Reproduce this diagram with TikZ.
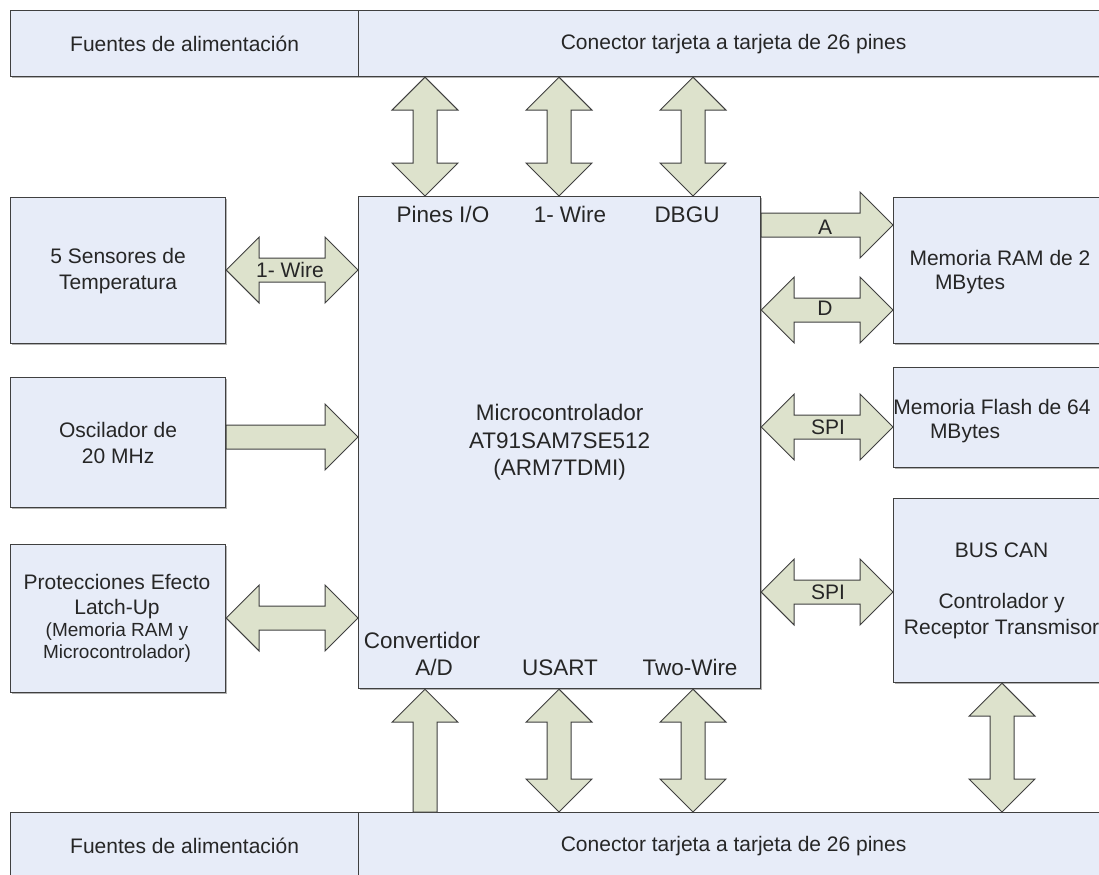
\documentclass[tikz,border=0pt]{standalone}
\usepackage{fontspec}
\setmainfont{Liberation Sans}
\usetikzlibrary{calc,shadows}
\definecolor{boxfill}{RGB}{231,236,248}
\definecolor{arrfill}{RGB}{221,226,204}
\definecolor{edgecol}{RGB}{64,64,64}
\definecolor{txt}{RGB}{38,38,38}
\tikzset{
  box/.style={draw=edgecol, fill=boxfill, line width=1.2bp, rectangle, inner sep=0pt,
    align=center, text=txt, font=\fontsize{21bp}{26bp}\selectfont,
    drop shadow={shadow xshift=1.5bp, shadow yshift=-1.5bp, fill=black!30, opacity=1}},
  lbl/.style={text=txt, font=\fontsize{21bp}{26bp}\selectfont, inner sep=0pt, text height=15bp, text depth=0bp},
  pinlbl/.style={lbl, font=\fontsize{22.5bp}{27bp}\selectfont},
  smalllbl/.style={text=txt, font=\fontsize{19bp}{22bp}\selectfont, inner sep=0pt, align=center},
  arr/.style={draw=edgecol, fill=arrfill, line width=1bp, line join=miter},
}
% double horizontal arrow: left point, right point
\newcommand\ArrDH[2]{%
  \path[arr] let \p1=(#1), \p2=(#2) in
   (\x1,\y1) -- (\x1+33bp,\y1+33bp) -- (\x1+33bp,\y1+12bp) -- (\x2-33bp,\y1+12bp)
   -- (\x2-33bp,\y1+33bp) -- (\x2,\y1) -- (\x2-33bp,\y1-33bp) -- (\x2-33bp,\y1-12bp)
   -- (\x1+33bp,\y1-12bp) -- (\x1+33bp,\y1-33bp) -- cycle;}
% single horizontal arrow: tail (left), head (right)
\newcommand\ArrSH[2]{%
  \path[arr] let \p1=(#1), \p2=(#2) in
   (\x1,\y1+12bp) -- (\x2-33bp,\y1+12bp) -- (\x2-33bp,\y1+33bp) -- (\x2,\y1)
   -- (\x2-33bp,\y1-33bp) -- (\x2-33bp,\y1-12bp) -- (\x1,\y1-12bp) -- cycle;}
% double vertical arrow: top point, bottom point
\newcommand\ArrDV[2]{%
  \path[arr] let \p1=(#1), \p2=(#2) in
   (\x1,\y1) -- (\x1+33bp,\y1-33bp) -- (\x1+12bp,\y1-33bp) -- (\x1+12bp,\y2+33bp)
   -- (\x1+33bp,\y2+33bp) -- (\x1,\y2) -- (\x1-33bp,\y2+33bp) -- (\x1-12bp,\y2+33bp)
   -- (\x1-12bp,\y1-33bp) -- (\x1-33bp,\y1-33bp) -- cycle;}
% single vertical arrow upward: tail (bottom), head (top)
\newcommand\ArrSV[2]{%
  \path[arr] let \p1=(#1), \p2=(#2) in
   (\x1-12bp,\y1) -- (\x1-12bp,\y2-33bp) -- (\x1-33bp,\y2-33bp) -- (\x1,\y2)
   -- (\x1+33bp,\y2-33bp) -- (\x1+12bp,\y2-33bp) -- (\x1+12bp,\y1) -- cycle;}
\begin{document}
\begin{tikzpicture}[x=1bp,y=-1bp]
\useasboundingbox (0,0) rectangle (1099,875);
\clip (0,0) rectangle (1099,875);
\fill[white] (0,0) rectangle (1099,875);

% boxes
\node[box, anchor=north west, minimum width=348bp, minimum height=66bp] (topL) at (10,10) {Fuentes de alimentación};
\node[box, anchor=north west, minimum width=750bp, minimum height=66bp] (topR) at (358,10) {Conector tarjeta a tarjeta de 26 pines};
\node[box, anchor=north west, minimum width=348bp, minimum height=66bp] (botL) at (10,812) {Fuentes de alimentación};
\node[box, anchor=north west, minimum width=750bp, minimum height=66bp] (botR) at (358,812) {Conector tarjeta a tarjeta de 26 pines};

\node[box, anchor=north west, minimum width=215bp, minimum height=146bp] (sens) at (10,197) {5 Sensores de\\Temperatura};
\node[box, anchor=north west, minimum width=215bp, minimum height=130bp] (osc) at (10,377) {Oscilador de\\20 MHz};
\node[box, anchor=north west, minimum width=215bp, minimum height=148bp] (prot) at (10,544) {};

\node[box, anchor=north west, minimum width=402bp, minimum height=492bp,
      font=\fontsize{22.5bp}{27.5bp}\selectfont] (mcu) at (358,196) {Microcontrolador\\AT91SAM7SE512\\(ARM7TDMI)};

\node[box, anchor=north west, minimum width=215bp, minimum height=146bp] (ram) at (893,197) {};
\node[box, anchor=north west, minimum width=215bp, minimum height=100bp] (flash) at (893,367) {};
\node[box, anchor=north west, minimum width=216bp, minimum height=184bp] (can) at (893,498) {BUS CAN\\[25bp]Controlador y\\Receptor Transmisor};

% coordinates for connector positions
\coordinate (c1) at (425,0);
\coordinate (c2) at (559,0);
\coordinate (c3) at (693,0);
\coordinate (c4) at (1002,0);
\coordinate (r1) at (0,270);
\coordinate (r2) at (0,437);
\coordinate (r3) at (0,618);
\coordinate (r4) at (0,225);
\coordinate (r5) at (0,310);
\coordinate (r6) at (0,427);
\coordinate (r7) at (0,592);

% connectors
\ArrDV{topR.south -| c1}{mcu.north -| c1}
\ArrDV{topR.south -| c2}{mcu.north -| c2}
\ArrDV{topR.south -| c3}{mcu.north -| c3}
\ArrSV{botR.north -| c1}{mcu.south -| c1}
\ArrDV{mcu.south -| c2}{botR.north -| c2}
\ArrDV{mcu.south -| c3}{botR.north -| c3}
\ArrDV{can.south -| c4}{botR.north -| c4}
\ArrDH{sens.east |- r1}{mcu.west |- r1}
\ArrSH{osc.east |- r2}{mcu.west |- r2}
\ArrDH{prot.east |- r3}{mcu.west |- r3}
\ArrSH{mcu.east |- r4}{ram.west |- r4}
\ArrDH{mcu.east |- r5}{ram.west |- r5}
\ArrDH{mcu.east |- r6}{flash.west |- r6}
\ArrDH{mcu.east |- r7}{can.west |- r7}

% labels
\node[lbl] (wl) at (290,270) {1- Wire};
\node[lbl] (al) at (825,227) {A};
\node[lbl] (dl) at (825,308) {D};
\node[lbl] (spi1) at (828,427) {SPI};
\node[lbl] (spi2) at (828,592) {SPI};

\node[pinlbl] (pio) at (443,215) {Pines I/O};
\node[pinlbl] (pw) at (570,215) {1- Wire};
\node[pinlbl] (pdbgu) at (687,215) {DBGU};
\node[pinlbl] (pconv) at (422,641) {Convertidor};
\node[pinlbl] (pad) at (434,668) {A/D};
\node[pinlbl] (pusart) at (560,668) {USART};
\node[pinlbl] (ptw) at (690,668) {Two-Wire};

\node[lbl] (prot1) at (117,582) {Protecciones Efecto};
\node[lbl] (prot2) at (117,607) {Latch-Up};
\node[smalllbl] (prot3) at (117,643) {(Memoria RAM y\\Microcontrolador)};

\node[lbl] (ram1) at (1000,258) {Memoria RAM de 2};
\node[lbl] (ram2) at (970,282) {MBytes};
\node[lbl] (fl1) at (992,407) {Memoria Flash de 64};
\node[lbl] (fl2) at (965,431) {MBytes};
\end{tikzpicture}
\end{document}
